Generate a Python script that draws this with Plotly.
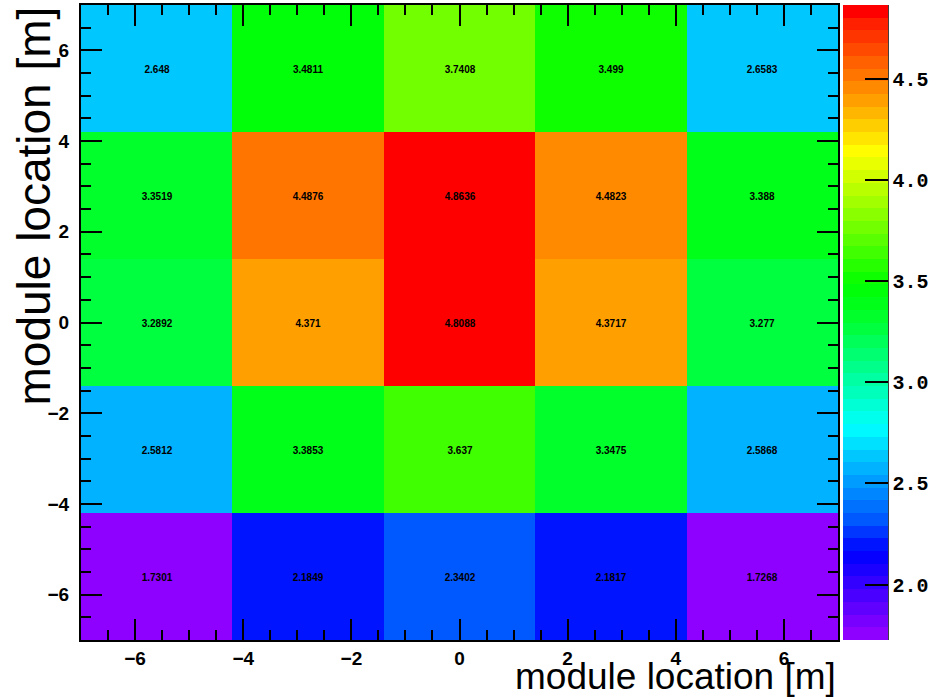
import colorsys
import numpy as np
import plotly.graph_objects as go

# Bin edges (m) of the 5x5 module grid
x_edges = [-7.0, -4.2, -1.4, 1.4, 4.2, 7.0]
y_edges = [-7.0, -4.2, -1.4, 1.4, 4.2, 7.0]

# Cell values, rows from bottom (y=-5.6) to top (y=5.6)
row_m56 = [1.7301, 2.1849, 2.3402, 2.1817, 1.7268]
row_m28 = [2.5812, 3.3853, 3.637, 3.3475, 2.5868]
row_0 = [3.2892, 4.371, 4.8088, 4.3717, 3.277]
row_p28 = [3.3519, 4.4876, 4.8636, 4.4823, 3.388]
row_p56 = [2.648, 3.4811, 3.7408, 3.499, 2.6583]
z = [row_m56, row_m28, row_0, row_p28, row_p56]
text = [[f"{v:.5g}" for v in r] for r in z]

x_ticks = [-6, -4, -2, 0, 2, 4, 6]
y_ticks = [-6, -4, -2, 0, 2, 4, 6]
cbar_ticks = [2.0, 2.5, 3.0, 3.5, 4.0, 4.5]
axis_title = "module location [m]"

zmin = min(min(r) for r in z)
zmax = max(max(r) for r in z)

# Rainbow palette (violet -> red), 50 discrete bands; hue anchors tuned to the picture
hue_f = [0.0, 0.146, 0.196, 0.294, 0.50, 0.56, 0.64, 0.84, 1.0]
hue_h = [276, 237, 217, 192, 132, 120, 96, 40, 0]
n_col = 50
colorscale = []
for i in range(n_col):
    fc = (i + 0.5) / n_col
    hue = float(np.interp(fc, hue_f, hue_h))
    if i == n_col - 1:
        hue = 0.0
    r, g, b = colorsys.hls_to_rgb(hue / 360.0, 0.5, 1.0)
    c = f"rgb({int(round(r*255))},{int(round(g*255))},{int(round(b*255))})"
    colorscale.append([i / n_col, c])
    colorscale.append([(i + 1) / n_col, c])

W, H = 942, 697
ml, mr, mt, mb = 81, 104, 5, 57
pw = W - ml - mr
ph = H - mt - mb

fig = go.Figure(go.Heatmap(
    x=x_edges, y=y_edges, z=z,
    zmin=zmin, zmax=zmax,
    colorscale=colorscale,
    text=text, texttemplate="%{text}",
    textfont=dict(family="Liberation Sans", size=10, color="black", weight="bold"),
    colorbar=dict(
        x=(843 - ml) / pw, xanchor="left", xpad=0,
        y=0.5, yanchor="middle", len=1.0, lenmode="fraction", ypad=0,
        thickness=45, thicknessmode="pixels",
        outlinewidth=0,
        tickvals=cbar_ticks, ticktext=[f"{t:.1f}" for t in cbar_ticks],
        ticks="inside", ticklen=23, tickwidth=2, tickcolor="black",
        tickfont=dict(family="Liberation Mono", size=20, color="black", weight="bold"),
    ),
))

axis_common = dict(
    range=[-7, 7], showgrid=False, zeroline=False,
    showline=True, linewidth=2, linecolor="black", mirror="ticks",
    ticks="inside", ticklen=21, tickwidth=2, tickcolor="black",
    minor=dict(dtick=0.5, ticks="inside", ticklen=10, tickwidth=2, tickcolor="black"),
    tickfont=dict(family="Liberation Sans", size=19, color="black", weight="bold"),
)
fig.update_xaxes(tickvals=x_ticks, **axis_common)
fig.update_yaxes(tickvals=y_ticks, ticklabelstandoff=6, **axis_common)

# x-axis title at the bottom right
fig.add_annotation(text=axis_title, xref="paper", yref="paper",
                   x=1.0, xanchor="right", y=-(mb + 2) / ph, yanchor="bottom",
                   showarrow=False,
                   font=dict(family="Liberation Sans", size=37, color="black"))
# y-axis title at the top left
fig.add_annotation(text=axis_title, xref="paper", yref="paper",
                   x=(33 - ml) / pw, xanchor="center", y=1.0, yanchor="top",
                   textangle=-90, showarrow=False,
                   font=dict(family="Liberation Sans", size=46, color="black"))

# thin dark edge on the right side of the colour bar
fig.add_shape(type="line", xref="paper", yref="paper",
              x0=(888 - ml) / pw, x1=(888 - ml) / pw, y0=0, y1=1,
              line=dict(color="black", width=1.5))

fig.update_layout(
    width=W, height=H,
    margin=dict(l=ml, r=mr, t=mt, b=mb, autoexpand=False),
    paper_bgcolor="white", plot_bgcolor="white",
)
fig.write_html("out.html")
